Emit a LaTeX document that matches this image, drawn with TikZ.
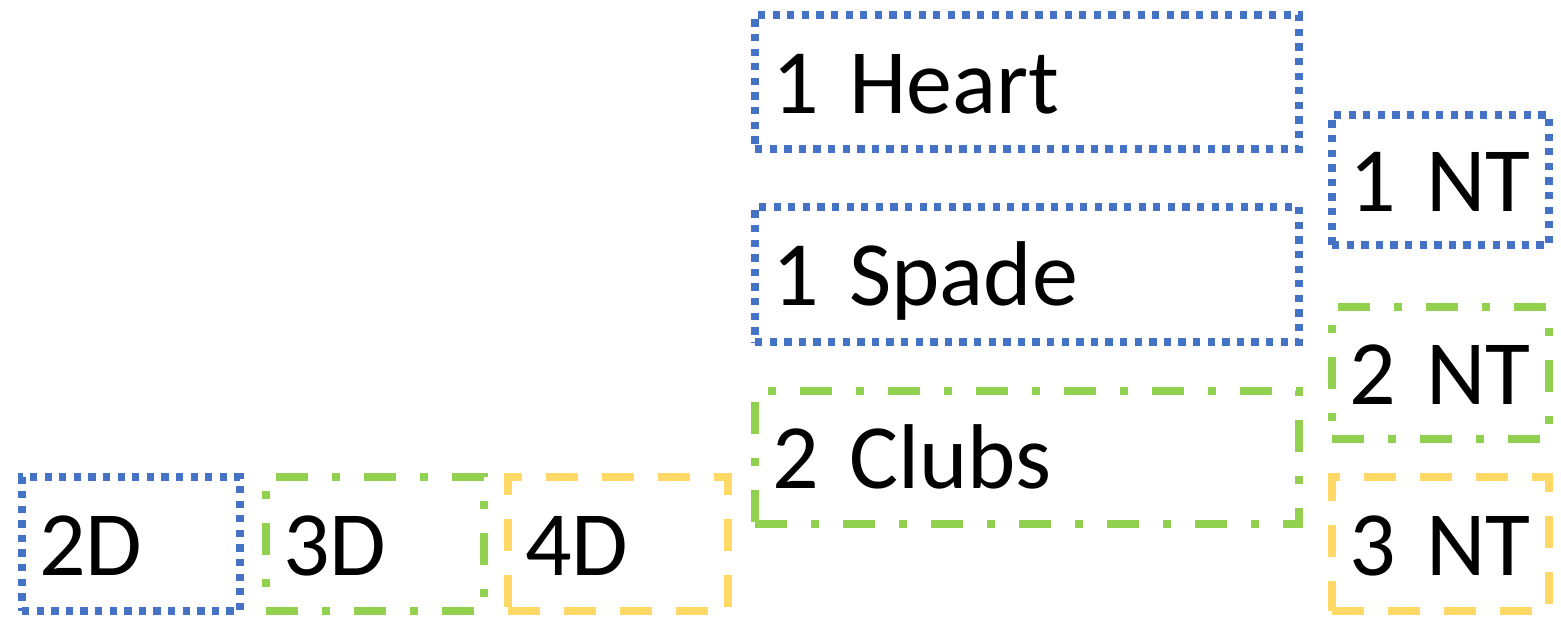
\documentclass[tikz,border=0pt]{standalone}
\usepackage{fontspec}
\setmainfont{Carlito}
\usetikzlibrary{calc, positioning}

\definecolor{bidblue}{HTML}{4472C4}
\definecolor{bidgreen}{HTML}{92D050}
\definecolor{bidyellow}{HTML}{FFD966}

\tikzset{
  bid/.style={draw, rectangle, inner xsep=17pt, inner ysep=0pt,
    text height=62pt, text depth=0pt, align=left, text=black,
    font=\fontsize{92}{100}\selectfont},
  dotbid/.style={bid, draw=bidblue, line width=7.3pt,
    dash pattern=on 7.3pt off 7.3pt},
  dashdotbid/.style={bid, draw=bidgreen, line width=8pt,
    dash pattern=on 32pt off 24pt on 8pt off 24pt},
  dashbid/.style={bid, draw=bidyellow, line width=8pt,
    dash pattern=on 32pt off 24pt},
  boxsize/.style 2 args={text width=#1, minimum height=#2}
}

\begin{document}
\begin{tikzpicture}[x=1pt, y=-1pt]
\useasboundingbox (0,0) rectangle (1561,616);

% suit bids, one level up
\node[dotbid, boxsize={510pt}{134pt}] (heart) at (1027,82) {1 Heart};
\node[dotbid, boxsize={510pt}{135pt}] (spade) at (1027,274.5) {1 Spade};
\node[dashdotbid, boxsize={510pt}{133pt}] (clubs) at (1027,457.5) {2 Clubs};

% no trump column
\node[dotbid, boxsize={183pt}{130pt}] (nt1) at (1440.5,180) {1 NT};
\node[dashdotbid, boxsize={183pt}{132pt}] (nt2) at (1440.5,373) {2 NT};
\node[dashbid, boxsize={183pt}{134pt}] (nt3) at (1440.5,544) {3 NT};

% diamond row
\node[dotbid, boxsize={184pt}{134pt}] (d2) at (131,544) {2D};
\node[dashdotbid, boxsize={184pt}{134pt}] (d3) at (375,544) {3D};
\node[dashbid, boxsize={186pt}{134pt}] (d4) at (618,544) {4D};
\end{tikzpicture}
\end{document}
